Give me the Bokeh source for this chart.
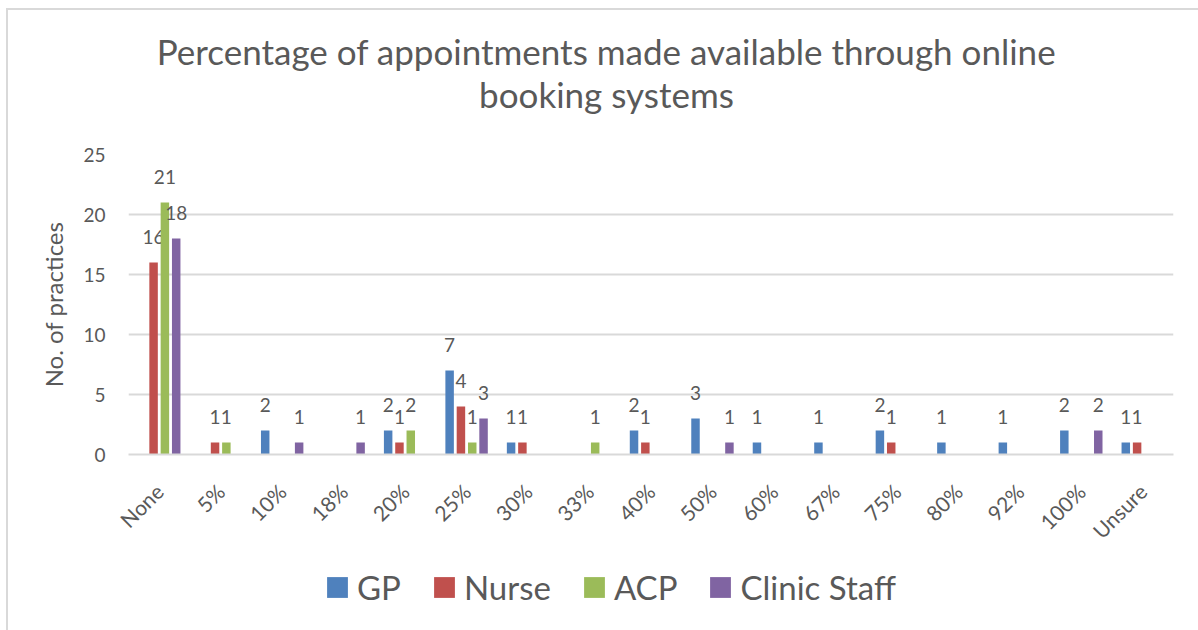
from bokeh.plotting import figure
from bokeh.models import Legend, LegendItem, ColumnDataSource, Range1d, FactorRange
from bokeh.transform import dodge
from bokeh.core.properties import value
from bokeh.layouts import column
from bokeh.embed import file_html
from bokeh.resources import INLINE
import math

categories = ["None", "5%", "10%", "18%", "20%", "25%", "30%", "33%", "40%", "50%",
              "60%", "67%", "75%", "80%", "92%", "100%", "Unsure"]
gp =     [0, 0, 2, 0, 2, 7, 1, 0, 2, 3, 1, 1, 2, 1, 1, 2, 1]
nurse =  [16, 1, 0, 0, 1, 4, 1, 0, 1, 0, 0, 0, 1, 0, 0, 0, 1]
acp =    [21, 1, 0, 0, 2, 1, 0, 1, 0, 0, 0, 0, 0, 0, 0, 0, 0]
clinic = [18, 0, 1, 1, 0, 3, 0, 0, 0, 1, 0, 0, 0, 0, 0, 2, 0]
series_names = ["GP", "Nurse", "ACP", "Clinic Staff"]
series_values = [gp, nurse, acp, clinic]
colors = ["#4F81BD", "#C0504D", "#9BBB59", "#8064A2"]
y_ticks = [0, 5, 10, 15, 20, 25]
title_lines = ["Percentage of appointments made available through online", "booking systems"]

FONT = "Lato"
TXT = "#595959"
GRID = "#D9D9D9"
W = 1190
BL, BR = 120, 25          # left / right borders shared by all stacked figures
FX0, FX1 = 128, 1173       # page x of plot frame


def blank(h):
    f = figure(width=W, height=h, x_range=Range1d(FX0, FX1), y_range=Range1d(h, 0),
               output_backend="svg", toolbar_location=None,
               min_border_left=BL, min_border_right=BR, min_border_top=0, min_border_bottom=0,
               x_axis_type=None, y_axis_type=None)
    f.title.visible = False
    f.outline_line_color = None
    f.grid.visible = False
    f.border_fill_color = "white"
    f.background_fill_color = "white"
    return f


# ---- title ----
TH = 124
tf = blank(TH)
tf.text(x=[606, 606], y=[40, 83], text=title_lines, text_align="center",
        text_baseline="alphabetic", text_font=value(FONT), text_font_size="35px",
        text_color=TXT)

# ---- main chart ----
MH = 421
p = figure(x_range=FactorRange(*categories), y_range=Range1d(0, 25),
           width=W, height=MH, output_backend="svg", toolbar_location=None,
           min_border_left=BL, min_border_right=BR, min_border_top=20, min_border_bottom=101)
p.title.visible = False
p.outline_line_color = None
p.background_fill_color = "white"
p.border_fill_color = "white"

p.xgrid.grid_line_color = None
p.ygrid.grid_line_color = GRID
p.ygrid.grid_line_width = 2
p.yaxis.ticker = y_ticks
p.yaxis.axis_line_color = None
p.yaxis.major_tick_line_color = None
p.yaxis.minor_tick_line_color = None
p.yaxis.major_label_text_font = FONT
p.yaxis.major_label_text_font_size = "19px"
p.yaxis.major_label_text_color = TXT
p.yaxis.major_label_standoff = 17
p.yaxis.axis_label = "No. of practices"
p.yaxis.axis_label_text_font = FONT
p.yaxis.axis_label_text_font_size = "24px"
p.yaxis.axis_label_text_font_style = "normal"
p.yaxis.axis_label_text_color = TXT
p.yaxis.axis_label_standoff = 12

p.xaxis.axis_line_color = GRID
p.xaxis.axis_line_width = 2
p.xaxis.major_tick_line_color = None
p.xaxis.minor_tick_line_color = None
p.xaxis.major_label_orientation = math.pi / 4
p.xaxis.major_label_text_font = FONT
p.xaxis.major_label_text_font_size = "21px"
p.xaxis.major_label_text_color = TXT
p.xaxis.major_label_standoff = 27

offsets = [-0.276, -0.092, 0.092, 0.276]
bar_w = 0.138
for name, vals, col, off in zip(series_names, series_values, colors, offsets):
    src = ColumnDataSource(dict(cat=categories, val=vals))
    p.vbar(x=dodge("cat", off, range=p.x_range), top="val", width=bar_w, source=src,
           fill_color=col, line_color=None)
    lab_c = [c for c, v in zip(categories, vals) if v > 0]
    lab_v = [v for v in vals if v > 0]
    lsrc = ColumnDataSource(dict(cat=lab_c, val=lab_v, txt=[str(v) for v in lab_v]))
    p.text(x=dodge("cat", off, range=p.x_range), y="val", text="txt", source=lsrc,
           text_align="center", text_baseline="alphabetic", y_offset=-26,
           text_font=value(FONT), text_font_size="19px", text_color=TXT)

# ---- legend ----
LH = 630 - 10 - TH - MH
lf = blank(LH)
items = []
for name, col in zip(series_names, colors):
    # zero-height swatch holder so the legend has a glyph to draw
    r = lf.vbar(x=[FX0], top=[0], bottom=[0], width=0, fill_color=col, line_color=None)
    items.append(LegendItem(label=name, renderers=[r]))
legend = Legend(items=items, orientation="horizontal", location=(196, 23),
                glyph_width=26, glyph_height=26, label_standoff=7, spacing=30,
                padding=0, margin=0, border_line_color=None, background_fill_alpha=0,
                label_text_font=FONT, label_text_font_size="33px", label_text_color=TXT)
lf.add_layout(legend, "center")

layout = column(tf, p, lf, spacing=0, margin=(8, 0, 0, 6),
                styles={"border-left": "2px solid #D9D9D9", "border-top": "2px solid #D9D9D9"})

open("out.html", "w").write(file_html(layout, INLINE))
